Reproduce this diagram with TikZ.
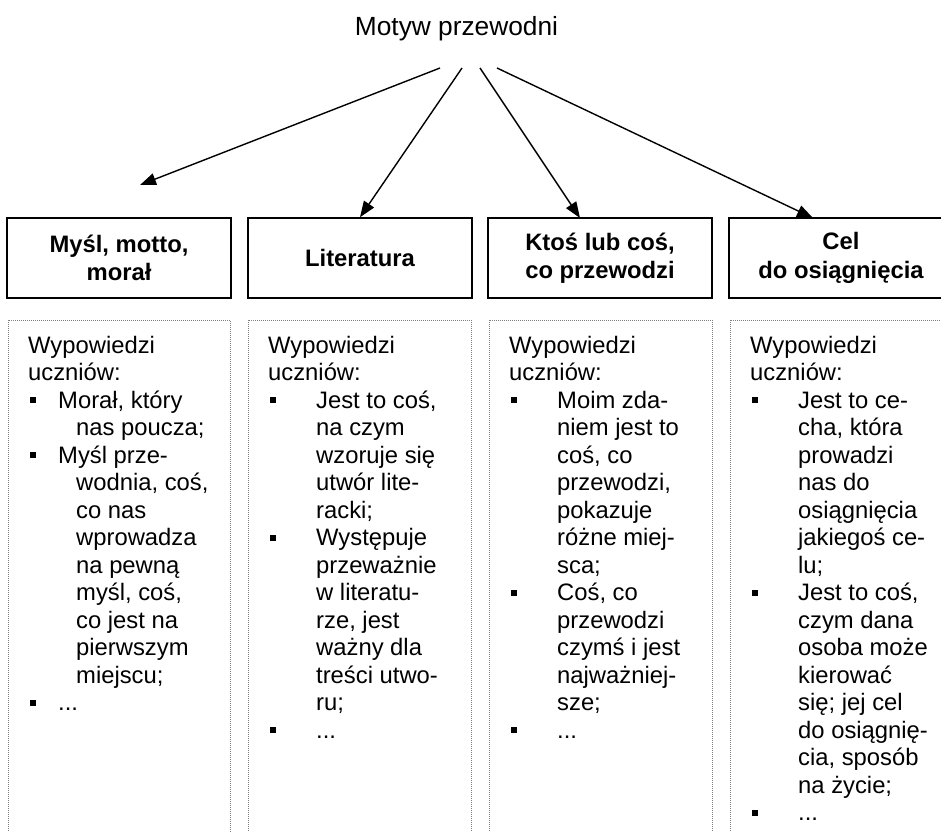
\documentclass[tikz,border=0pt]{standalone}
\usepackage{fontspec}
\setmainfont{Liberation Sans}
\usetikzlibrary{arrows.meta}

% kwadratowy punktor i wciecie
\newcommand{\kw}[1]{\makebox[#1][l]{\hspace{2pt}\raisebox{5pt}{\rule{6pt}{6pt}}}}
\newcommand{\wc}[1]{\hspace*{#1}}

\tikzset{
  naglowek/.style={draw, line width=1.5pt, minimum width=224pt, minimum height=80pt,
    inner sep=0pt, align=center, font=\bfseries\fontsize{23.8}{28.3}\selectfont},
  ramka/.style={draw=gray, dash pattern=on 1pt off 1pt, line width=0.8pt},
  opis/.style={inner sep=0pt, anchor=base west, align=left,
    font=\fontsize{23.8}{27.5}\selectfont},
  strzalka/.style={-{Triangle[length=16pt,width=12pt]}, line width=1.4pt}
}

\begin{document}
\begin{tikzpicture}[x=1pt, y=-1pt]

\clip (0,0) rectangle (941,831);

%\draw [help lines, step=50] (0,0) grid (941,831);

\node (title) [anchor=base, font=\fontsize{26.3}{30}\selectfont] at (456.5,35) {Motyw przewodni};

% naglowki
\node (h1) [naglowek] at (119,258) {My\'sl, motto,\\mora\l};
\node (h2) [naglowek] at (360,258) {Literatura};
\node (h3) [naglowek] at (600,258) {Kto\'s lub co\'s,\\co przewodzi};
\node (h4) [naglowek] at (841,258) {Cel\\do osi\k{a}gni\k{e}cia};

% strzalki od tytulu
\coordinate (s1) at (440,68);
\coordinate (s2) at (462,68);
\coordinate (s3) at (480,68);
\coordinate (s4) at (497,68);
\coordinate (k1) at (140,185);
\coordinate (k3) at (580,218);
\coordinate (k4) at (813,218);

\draw [strzalka] (s1)--(k1);
\draw [strzalka] (s2)--(h2.north);
\draw [strzalka] (s3)--(k3);
\draw [strzalka] (s4)--(k4);

% ramki na wypowiedzi
\draw [ramka] (8,320) rectangle (230,860);
\draw [ramka] (248,320) rectangle (471,860);
\draw [ramka] (489,320) rectangle (712,860);
\draw [ramka] (730,320) rectangle (953,860);

% wypowiedzi -- motto (kotwica na ostatniej linii)
\node (w1) [opis] at (28,710.5) {Wypowiedzi\\uczni\'ow:\\
\kw{30pt}Mora\l, kt\'ory\\
\wc{48pt}nas poucza;\\
\kw{30pt}My\'sl prze-\\
\wc{48pt}wodnia, co\'s,\\
\wc{48pt}co nas\\
\wc{48pt}wprowadza\\
\wc{48pt}na pewn\k{a}\\
\wc{48pt}my\'sl, co\'s,\\
\wc{48pt}co jest na\\
\wc{48pt}pierwszym\\
\wc{48pt}miejscu;\\
\kw{30pt}...};

% wypowiedzi -- literatura
\node (w2) [opis] at (268,738) {Wypowiedzi\\uczni\'ow:\\
\kw{48pt}Jest to co\'s,\\
\wc{48pt}na czym\\
\wc{48pt}wzoruje si\k{e}\\
\wc{48pt}utw\'or lite-\\
\wc{48pt}racki;\\
\kw{48pt}Wyst\k{e}puje\\
\wc{48pt}przewa\.znie\\
\wc{48pt}w literatu-\\
\wc{48pt}rze, jest\\
\wc{48pt}wa\.zny dla\\
\wc{48pt}tre\'sci utwo-\\
\wc{48pt}ru;\\
\kw{48pt}...};

% wypowiedzi -- kto co przewodzi
\node (w3) [opis] at (509,738) {Wypowiedzi\\uczni\'ow:\\
\kw{48pt}Moim zda-\\
\wc{48pt}niem jest to\\
\wc{48pt}co\'s, co\\
\wc{48pt}przewodzi,\\
\wc{48pt}pokazuje\\
\wc{48pt}r\'o\.zne miej-\\
\wc{48pt}sca;\\
\kw{48pt}Co\'s, co\\
\wc{48pt}przewodzi\\
\wc{48pt}czym\'s i jest\\
\wc{48pt}najwa\.zniej-\\
\wc{48pt}sze;\\
\kw{48pt}...};

% wypowiedzi -- cel
\node (w4) [opis] at (750,820.5) {Wypowiedzi\\uczni\'ow:\\
\kw{48pt}Jest to ce-\\
\wc{48pt}cha, kt\'ora\\
\wc{48pt}prowadzi\\
\wc{48pt}nas do\\
\wc{48pt}osi\k{a}gni\k{e}cia\\
\wc{48pt}jakiego\'s ce-\\
\wc{48pt}lu;\\
\kw{48pt}Jest to co\'s,\\
\wc{48pt}czym dana\\
\wc{48pt}osoba mo\.ze\\
\wc{48pt}kierowa\'c\\
\wc{48pt}si\k{e}; jej cel\\
\wc{48pt}do osi\k{a}gni\k{e}-\\
\wc{48pt}cia, spos\'ob\\
\wc{48pt}na \.zycie;\\
\kw{48pt}...};

\end{tikzpicture}
\end{document}
